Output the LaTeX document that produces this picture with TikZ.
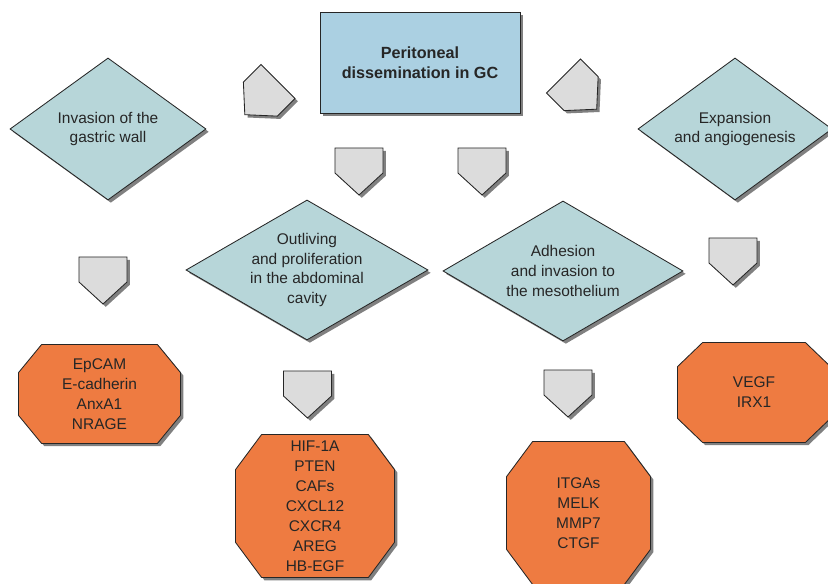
\documentclass[tikz,border=0pt]{standalone}
\usepackage{fontspec}
\setmainfont{Liberation Sans}
\usepackage{tikz}
\usetikzlibrary{shapes.geometric,shapes.symbols,shadows,backgrounds}
\definecolor{titleblue}{HTML}{ABD0E2}
\definecolor{stageteal}{HTML}{B7D6D9}
\definecolor{geneorange}{HTML}{EE7B41}
\definecolor{plategray}{HTML}{DCDCDC}
% octagon round a node: #1 node, #2 x cut, #3 y cut
\newcommand{\octround}[3]{([xshift=#2]#1.north west) -- ([xshift=-#2]#1.north east)
  -- ([yshift=-#3]#1.north east) -- ([yshift=#3]#1.south east)
  -- ([xshift=-#2]#1.south east) -- ([xshift=#2]#1.south west)
  -- ([yshift=#3]#1.south west) -- ([yshift=-#3]#1.north west) -- cycle}

\begin{document}
\begin{tikzpicture}[x=0.025cm,y=0.025cm,
  every node/.style={font=\fontsize{11}{14.2}\selectfont,text=black!85,align=center,line width=0.6pt},
  shdw/.style={drop shadow={shadow xshift=2pt,shadow yshift=-2pt,fill=black!50,opacity=1}},
  stage/.style={diamond,draw=black!85,fill=stageteal,inner sep=0pt,shdw},
  genes/.style={rectangle,inner sep=0pt},
  genebox/.style={draw=black!85,fill=geneorange,line width=0.6pt,shdw},
  homeplate/.style={signal,signal to=south,signal from=nowhere,signal pointer angle=95,
    draw=black!85,fill=plategray,minimum width=1.2cm,minimum height=0.625cm,inner sep=0pt,shdw}]
\useasboundingbox (0,0) rectangle (828,584);
% title
\node[draw=black!85,fill=titleblue,minimum width=5cm,minimum height=2.525cm,shdw,
  font=\fontsize{11.5}{14.2}\selectfont\bfseries] (T) at (420,521.5) {Peritoneal\\dissemination in GC};
% stages
\node[stage,aspect=1.38,minimum width=4.9cm,minimum height=3.55cm] (S1) at (108,455) {Invasion of the\\gastric wall};
\node[stage,aspect=1.73,minimum width=6.05cm,minimum height=3.5cm] (S2) at (307,314) {Outliving\\and proliferation\\in the abdominal\\cavity};
\node[stage,aspect=1.73,minimum width=6cm,minimum height=3.5cm] (S3) at (563,313) {Adhesion\\and invasion to\\the mesothelium};
\node[stage,aspect=1.37,minimum width=4.85cm,minimum height=3.55cm] (S4) at (735,455) {Expansion\\and angiogenesis};
% plates
\node[homeplate,rotate=-45] (P0) at (269.2,493.7) {};
\node[homeplate,rotate=45] (P5) at (572.3,499.2) {};
\node[homeplate] (P2) at (359,423.5) {};
\node[homeplate] (P3) at (482,423.5) {};
\node[homeplate] (P1) at (103,314.5) {};
\node[homeplate] (P4) at (733,333.5) {};
\node[homeplate] (Q2) at (307.5,200.5) {};
\node[homeplate] (Q3) at (568,201.5) {};
% genes
\node[genes,minimum width=4.025cm,minimum height=2.45cm] (G1) at (99.5,190) {EpCAM\\E-cadherin\\AnxA1\\NRAGE};
\node[genes,minimum width=3.95cm,minimum height=3.55cm] (G2) at (315,78) {HIF-1A\\PTEN\\CAFs\\CXCL12\\CXCR4\\AREG\\HB-EGF};
\node[genes,minimum width=3.575cm,minimum height=3.55cm] (G3) at (578.5,71) {ITGAs\\MELK\\MMP7\\CTGF};
\node[genes,minimum width=3.8cm,minimum height=2.475cm] (G4) at (754,191.5) {VEGF\\IRX1};
\begin{scope}[on background layer]
\path[genebox] \octround{G1}{0.575cm}{0.7cm};
\path[genebox] \octround{G2}{0.65cm}{0.875cm};
\path[genebox] \octround{G3}{0.65cm}{0.875cm};
\path[genebox] \octround{G4}{0.625cm}{0.6cm};
\end{scope}
\end{tikzpicture}
\end{document}
